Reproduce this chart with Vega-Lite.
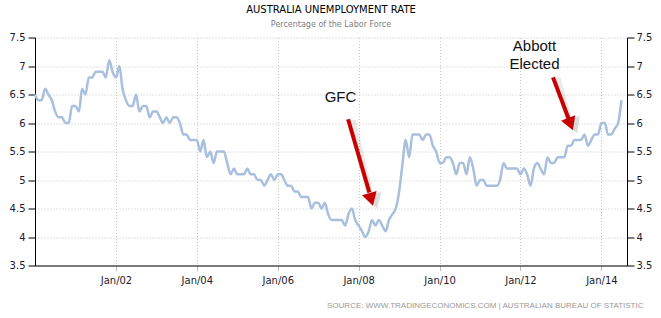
{
  "$schema": "https://vega.github.io/schema/vega-lite/v6.json",
  "width": 592,
  "height": 228,
  "autosize": {"type": "none"},
  "padding": {"left": 35, "top": 37.5, "right": 34, "bottom": 52.5},
  "background": "white",
  "config": {"view": {"stroke": null}, "font": "DejaVu Sans", "axis": {"labelFont": "DejaVu Sans", "domain": true}},
  "title": {
    "text": "AUSTRALIA UNEMPLOYMENT RATE",
    "subtitle": "Percentage of the Labor Force",
    "anchor": "middle",
    "font": "DejaVu Sans",
    "fontSize": 10,
    "fontWeight": "normal",
    "color": "#000000",
    "subtitleFont": "DejaVu Sans",
    "subtitleFontSize": 8,
    "subtitleColor": "#808080",
    "subtitlePadding": 6,
    "offset": 4
  },
  "datasets": {
    "series": [
      {"date": "2000-01-01", "value": 6.5}, {"date": "2000-02-01", "value": 6.4}, {"date": "2000-03-01", "value": 6.4}, {"date": "2000-04-01", "value": 6.6}, {"date": "2000-05-01", "value": 6.5}, {"date": "2000-06-01", "value": 6.4}, {"date": "2000-07-01", "value": 6.2}, {"date": "2000-08-01", "value": 6.1}, {"date": "2000-09-01", "value": 6.1}, {"date": "2000-10-01", "value": 6.0}, {"date": "2000-11-01", "value": 6.0}, {"date": "2000-12-01", "value": 6.3},
      {"date": "2001-01-01", "value": 6.3}, {"date": "2001-02-01", "value": 6.2}, {"date": "2001-03-01", "value": 6.6}, {"date": "2001-04-01", "value": 6.5}, {"date": "2001-05-01", "value": 6.8}, {"date": "2001-06-01", "value": 6.8}, {"date": "2001-07-01", "value": 6.9}, {"date": "2001-08-01", "value": 6.9}, {"date": "2001-09-01", "value": 6.9}, {"date": "2001-10-01", "value": 6.8}, {"date": "2001-11-01", "value": 7.1}, {"date": "2001-12-01", "value": 6.9},
      {"date": "2002-01-01", "value": 6.8}, {"date": "2002-02-01", "value": 7.0}, {"date": "2002-03-01", "value": 6.6}, {"date": "2002-04-01", "value": 6.4}, {"date": "2002-05-01", "value": 6.3}, {"date": "2002-06-01", "value": 6.3}, {"date": "2002-07-01", "value": 6.5}, {"date": "2002-08-01", "value": 6.2}, {"date": "2002-09-01", "value": 6.3}, {"date": "2002-10-01", "value": 6.3}, {"date": "2002-11-01", "value": 6.1}, {"date": "2002-12-01", "value": 6.2},
      {"date": "2003-01-01", "value": 6.2}, {"date": "2003-02-01", "value": 6.1}, {"date": "2003-03-01", "value": 6.0}, {"date": "2003-04-01", "value": 6.1}, {"date": "2003-05-01", "value": 6.0}, {"date": "2003-06-01", "value": 6.1}, {"date": "2003-07-01", "value": 6.1}, {"date": "2003-08-01", "value": 6.0}, {"date": "2003-09-01", "value": 5.8}, {"date": "2003-10-01", "value": 5.8}, {"date": "2003-11-01", "value": 5.7}, {"date": "2003-12-01", "value": 5.7},
      {"date": "2004-01-01", "value": 5.7}, {"date": "2004-02-01", "value": 5.5}, {"date": "2004-03-01", "value": 5.7}, {"date": "2004-04-01", "value": 5.4}, {"date": "2004-05-01", "value": 5.5}, {"date": "2004-06-01", "value": 5.3}, {"date": "2004-07-01", "value": 5.5}, {"date": "2004-08-01", "value": 5.5}, {"date": "2004-09-01", "value": 5.5}, {"date": "2004-10-01", "value": 5.3}, {"date": "2004-11-01", "value": 5.1}, {"date": "2004-12-01", "value": 5.2},
      {"date": "2005-01-01", "value": 5.1}, {"date": "2005-02-01", "value": 5.1}, {"date": "2005-03-01", "value": 5.1}, {"date": "2005-04-01", "value": 5.2}, {"date": "2005-05-01", "value": 5.1}, {"date": "2005-06-01", "value": 5.1}, {"date": "2005-07-01", "value": 5.0}, {"date": "2005-08-01", "value": 5.0}, {"date": "2005-09-01", "value": 4.9}, {"date": "2005-10-01", "value": 5.0}, {"date": "2005-11-01", "value": 5.1}, {"date": "2005-12-01", "value": 5.0},
      {"date": "2006-01-01", "value": 5.1}, {"date": "2006-02-01", "value": 5.1}, {"date": "2006-03-01", "value": 5.0}, {"date": "2006-04-01", "value": 4.9}, {"date": "2006-05-01", "value": 4.9}, {"date": "2006-06-01", "value": 4.8}, {"date": "2006-07-01", "value": 4.8}, {"date": "2006-08-01", "value": 4.7}, {"date": "2006-09-01", "value": 4.7}, {"date": "2006-10-01", "value": 4.7}, {"date": "2006-11-01", "value": 4.5}, {"date": "2006-12-01", "value": 4.6},
      {"date": "2007-01-01", "value": 4.6}, {"date": "2007-02-01", "value": 4.5}, {"date": "2007-03-01", "value": 4.6}, {"date": "2007-04-01", "value": 4.4}, {"date": "2007-05-01", "value": 4.3}, {"date": "2007-06-01", "value": 4.3}, {"date": "2007-07-01", "value": 4.3}, {"date": "2007-08-01", "value": 4.3}, {"date": "2007-09-01", "value": 4.2}, {"date": "2007-10-01", "value": 4.4}, {"date": "2007-11-01", "value": 4.5}, {"date": "2007-12-01", "value": 4.3},
      {"date": "2008-01-01", "value": 4.2}, {"date": "2008-02-01", "value": 4.1}, {"date": "2008-03-01", "value": 4.0}, {"date": "2008-04-01", "value": 4.1}, {"date": "2008-05-01", "value": 4.3}, {"date": "2008-06-01", "value": 4.2}, {"date": "2008-07-01", "value": 4.3}, {"date": "2008-08-01", "value": 4.2}, {"date": "2008-09-01", "value": 4.1}, {"date": "2008-10-01", "value": 4.3}, {"date": "2008-11-01", "value": 4.4}, {"date": "2008-12-01", "value": 4.5},
      {"date": "2009-01-01", "value": 4.8}, {"date": "2009-02-01", "value": 5.3}, {"date": "2009-03-01", "value": 5.7}, {"date": "2009-04-01", "value": 5.4}, {"date": "2009-05-01", "value": 5.8}, {"date": "2009-06-01", "value": 5.8}, {"date": "2009-07-01", "value": 5.8}, {"date": "2009-08-01", "value": 5.7}, {"date": "2009-09-01", "value": 5.8}, {"date": "2009-10-01", "value": 5.8}, {"date": "2009-11-01", "value": 5.6}, {"date": "2009-12-01", "value": 5.5},
      {"date": "2010-01-01", "value": 5.3}, {"date": "2010-02-01", "value": 5.3}, {"date": "2010-03-01", "value": 5.4}, {"date": "2010-04-01", "value": 5.4}, {"date": "2010-05-01", "value": 5.3}, {"date": "2010-06-01", "value": 5.1}, {"date": "2010-07-01", "value": 5.3}, {"date": "2010-08-01", "value": 5.3}, {"date": "2010-09-01", "value": 5.1}, {"date": "2010-10-01", "value": 5.4}, {"date": "2010-11-01", "value": 5.2}, {"date": "2010-12-01", "value": 4.9},
      {"date": "2011-01-01", "value": 5.0}, {"date": "2011-02-01", "value": 5.0}, {"date": "2011-03-01", "value": 4.9}, {"date": "2011-04-01", "value": 4.9}, {"date": "2011-05-01", "value": 4.9}, {"date": "2011-06-01", "value": 4.9}, {"date": "2011-07-01", "value": 5.0}, {"date": "2011-08-01", "value": 5.3}, {"date": "2011-09-01", "value": 5.2}, {"date": "2011-10-01", "value": 5.2}, {"date": "2011-11-01", "value": 5.2}, {"date": "2011-12-01", "value": 5.2},
      {"date": "2012-01-01", "value": 5.1}, {"date": "2012-02-01", "value": 5.2}, {"date": "2012-03-01", "value": 5.1}, {"date": "2012-04-01", "value": 4.9}, {"date": "2012-05-01", "value": 5.2}, {"date": "2012-06-01", "value": 5.3}, {"date": "2012-07-01", "value": 5.2}, {"date": "2012-08-01", "value": 5.1}, {"date": "2012-09-01", "value": 5.4}, {"date": "2012-10-01", "value": 5.3}, {"date": "2012-11-01", "value": 5.3}, {"date": "2012-12-01", "value": 5.4},
      {"date": "2013-01-01", "value": 5.4}, {"date": "2013-02-01", "value": 5.4}, {"date": "2013-03-01", "value": 5.6}, {"date": "2013-04-01", "value": 5.6}, {"date": "2013-05-01", "value": 5.7}, {"date": "2013-06-01", "value": 5.7}, {"date": "2013-07-01", "value": 5.7}, {"date": "2013-08-01", "value": 5.8}, {"date": "2013-09-01", "value": 5.6}, {"date": "2013-10-01", "value": 5.7}, {"date": "2013-11-01", "value": 5.8}, {"date": "2013-12-01", "value": 5.8},
      {"date": "2014-01-01", "value": 6.0}, {"date": "2014-02-01", "value": 6.0}, {"date": "2014-03-01", "value": 5.8}, {"date": "2014-04-01", "value": 5.8}, {"date": "2014-05-01", "value": 5.9}, {"date": "2014-06-01", "value": 6.0}, {"date": "2014-07-01", "value": 6.4}
    ],
    "arrows": [
      {"event": "GFC", "date": "2007-09-28", "value": 6.065, "date2": "2008-04-07", "value2": 4.78},
      {"event": "Abbott", "date": "2012-10-21", "value": 6.8, "date2": "2013-03-10", "value2": 6.08}
    ],
    "heads": [
      {"event": "GFC", "date": "2008-04-23", "value": 4.66},
      {"event": "Abbott", "date": "2013-03-28", "value": 5.98}
    ],
    "notes": [
      {"label": "GFC", "date": "2007-07-21", "value": 6.36},
      {"label": "Abbott\nElected", "date": "2012-05-07", "value": 7.27}
    ]
  },
  "layer": [
    {
      "data": {"name": "series"},
      "mark": {"type": "line", "color": "#a8bfdd", "strokeWidth": 2.5, "interpolate": "monotone"},
      "encoding": {
        "x": {
          "field": "date", "type": "temporal",
          "scale": {"type": "utc", "domain": [{"year": 2000, "month": 1, "date": 1, "utc": true}, {"year": 2014, "month": 8, "date": 20, "utc": true}]},
          "axis": {
            "values": [
              {"year": 2002, "month": 1, "date": 1, "utc": true},
              {"year": 2004, "month": 1, "date": 1, "utc": true},
              {"year": 2006, "month": 1, "date": 1, "utc": true},
              {"year": 2008, "month": 1, "date": 1, "utc": true},
              {"year": 2010, "month": 1, "date": 1, "utc": true},
              {"year": 2012, "month": 1, "date": 1, "utc": true},
              {"year": 2014, "month": 1, "date": 1, "utc": true}
            ],
            "labelExpr": "'Jan/' + utcFormat(datum.value, '%y')",
            "domain": true, "domainColor": "#000000", "domainWidth": 1,
            "ticks": true, "tickColor": "#bbbbbb", "tickSize": 5, "labelPadding": 5,
            "labelFontSize": 10, "labelColor": "#1a1a2e",
            "grid": true, "gridDash": [1, 2], "gridColor": "#c4c4c4",
            "title": "SOURCE: WWW.TRADINGECONOMICS.COM | AUSTRALIAN BUREAU OF STATISTIC",
            "titleFont": "Liberation Sans", "titleFontSize": 8, "titleFontWeight": "normal", "titleColor": "#999999",
            "titleAnchor": "end", "titleAlign": "right", "titleBaseline": "middle", "titleX": 608, "titleY": 40
          }
        },
        "y": {
          "field": "value", "type": "quantitative",
          "scale": {"domain": [3.5, 7.5], "zero": false, "nice": false},
          "axis": {
            "values": [3.5, 4, 4.5, 5, 5.5, 6, 6.5, 7, 7.5],
            "format": "~g",
            "domain": true, "domainColor": "#000000", "domainWidth": 1,
            "tickColor": "#000000", "tickSize": 7, "labelPadding": 3,
            "labelFontSize": 10, "labelColor": "#1a1a2e",
            "grid": true, "gridDash": [1, 2], "gridColor": "#c4c4c4",
            "title": null
          }
        }
      }
    },
    {
      "data": {"name": "arrows"},
      "mark": {"type": "rule", "color": "#8c8c8c", "opacity": 0.18, "strokeWidth": 7, "xOffset": 4, "yOffset": 1},
      "encoding": {
        "x": {"field": "date", "type": "temporal"},
        "y": {"field": "value", "type": "quantitative", "axis": null},
        "x2": {"field": "date2"},
        "y2": {"field": "value2"}
      }
    },
    {
      "data": {"name": "arrows"},
      "mark": {"type": "rule", "color": "#c80000", "strokeWidth": 4},
      "encoding": {
        "x": {"field": "date", "type": "temporal"},
        "y": {"field": "value", "type": "quantitative", "axis": null},
        "x2": {"field": "date2"},
        "y2": {"field": "value2"}
      }
    },
    {
      "data": {"name": "heads"},
      "transform": [{"filter": "datum.event == 'GFC'"}],
      "mark": {"type": "point", "shape": "triangle-down", "filled": true, "color": "#8c8c8c", "opacity": 0.3, "size": 300, "angle": 344, "xOffset": 4, "yOffset": 2},
      "encoding": {
        "x": {"field": "date", "type": "temporal"},
        "y": {"field": "value", "type": "quantitative", "axis": null}
      }
    },
    {
      "data": {"name": "heads"},
      "transform": [{"filter": "datum.event == 'Abbott'"}],
      "mark": {"type": "point", "shape": "triangle-down", "filled": true, "color": "#8c8c8c", "opacity": 0.3, "size": 300, "angle": 339, "xOffset": 4, "yOffset": 2},
      "encoding": {
        "x": {"field": "date", "type": "temporal"},
        "y": {"field": "value", "type": "quantitative", "axis": null}
      }
    },
    {
      "data": {"name": "heads"},
      "transform": [{"filter": "datum.event == 'GFC'"}],
      "mark": {"type": "point", "shape": "triangle-down", "filled": true, "color": "#c80000", "opacity": 1, "size": 230, "angle": 344},
      "encoding": {
        "x": {"field": "date", "type": "temporal"},
        "y": {"field": "value", "type": "quantitative", "axis": null}
      }
    },
    {
      "data": {"name": "heads"},
      "transform": [{"filter": "datum.event == 'Abbott'"}],
      "mark": {"type": "point", "shape": "triangle-down", "filled": true, "color": "#c80000", "opacity": 1, "size": 230, "angle": 339},
      "encoding": {
        "x": {"field": "date", "type": "temporal"},
        "y": {"field": "value", "type": "quantitative", "axis": null}
      }
    },
    {
      "data": {"name": "notes"},
      "mark": {"type": "text", "font": "Liberation Sans", "fontSize": 15, "color": "#111111", "align": "center", "baseline": "alphabetic", "lineBreak": "\n", "lineHeight": 18},
      "encoding": {
        "x": {"field": "date", "type": "temporal"},
        "y": {
          "field": "value", "type": "quantitative",
          "scale": {"domain": [3.5, 7.5], "zero": false, "nice": false},
          "axis": {
            "orient": "right",
            "values": [3.5, 4, 4.5, 5, 5.5, 6, 6.5, 7, 7.5],
            "format": "~g",
            "domain": true, "domainColor": "#000000", "domainWidth": 1,
            "tickColor": "#000000", "tickSize": 7, "labelPadding": 2,
            "labelFontSize": 10, "labelColor": "#1a1a2e",
            "grid": false, "title": null
          }
        },
        "text": {"field": "label"}
      }
    }
  ],
  "resolve": {"axis": {"y": "independent"}}
}
